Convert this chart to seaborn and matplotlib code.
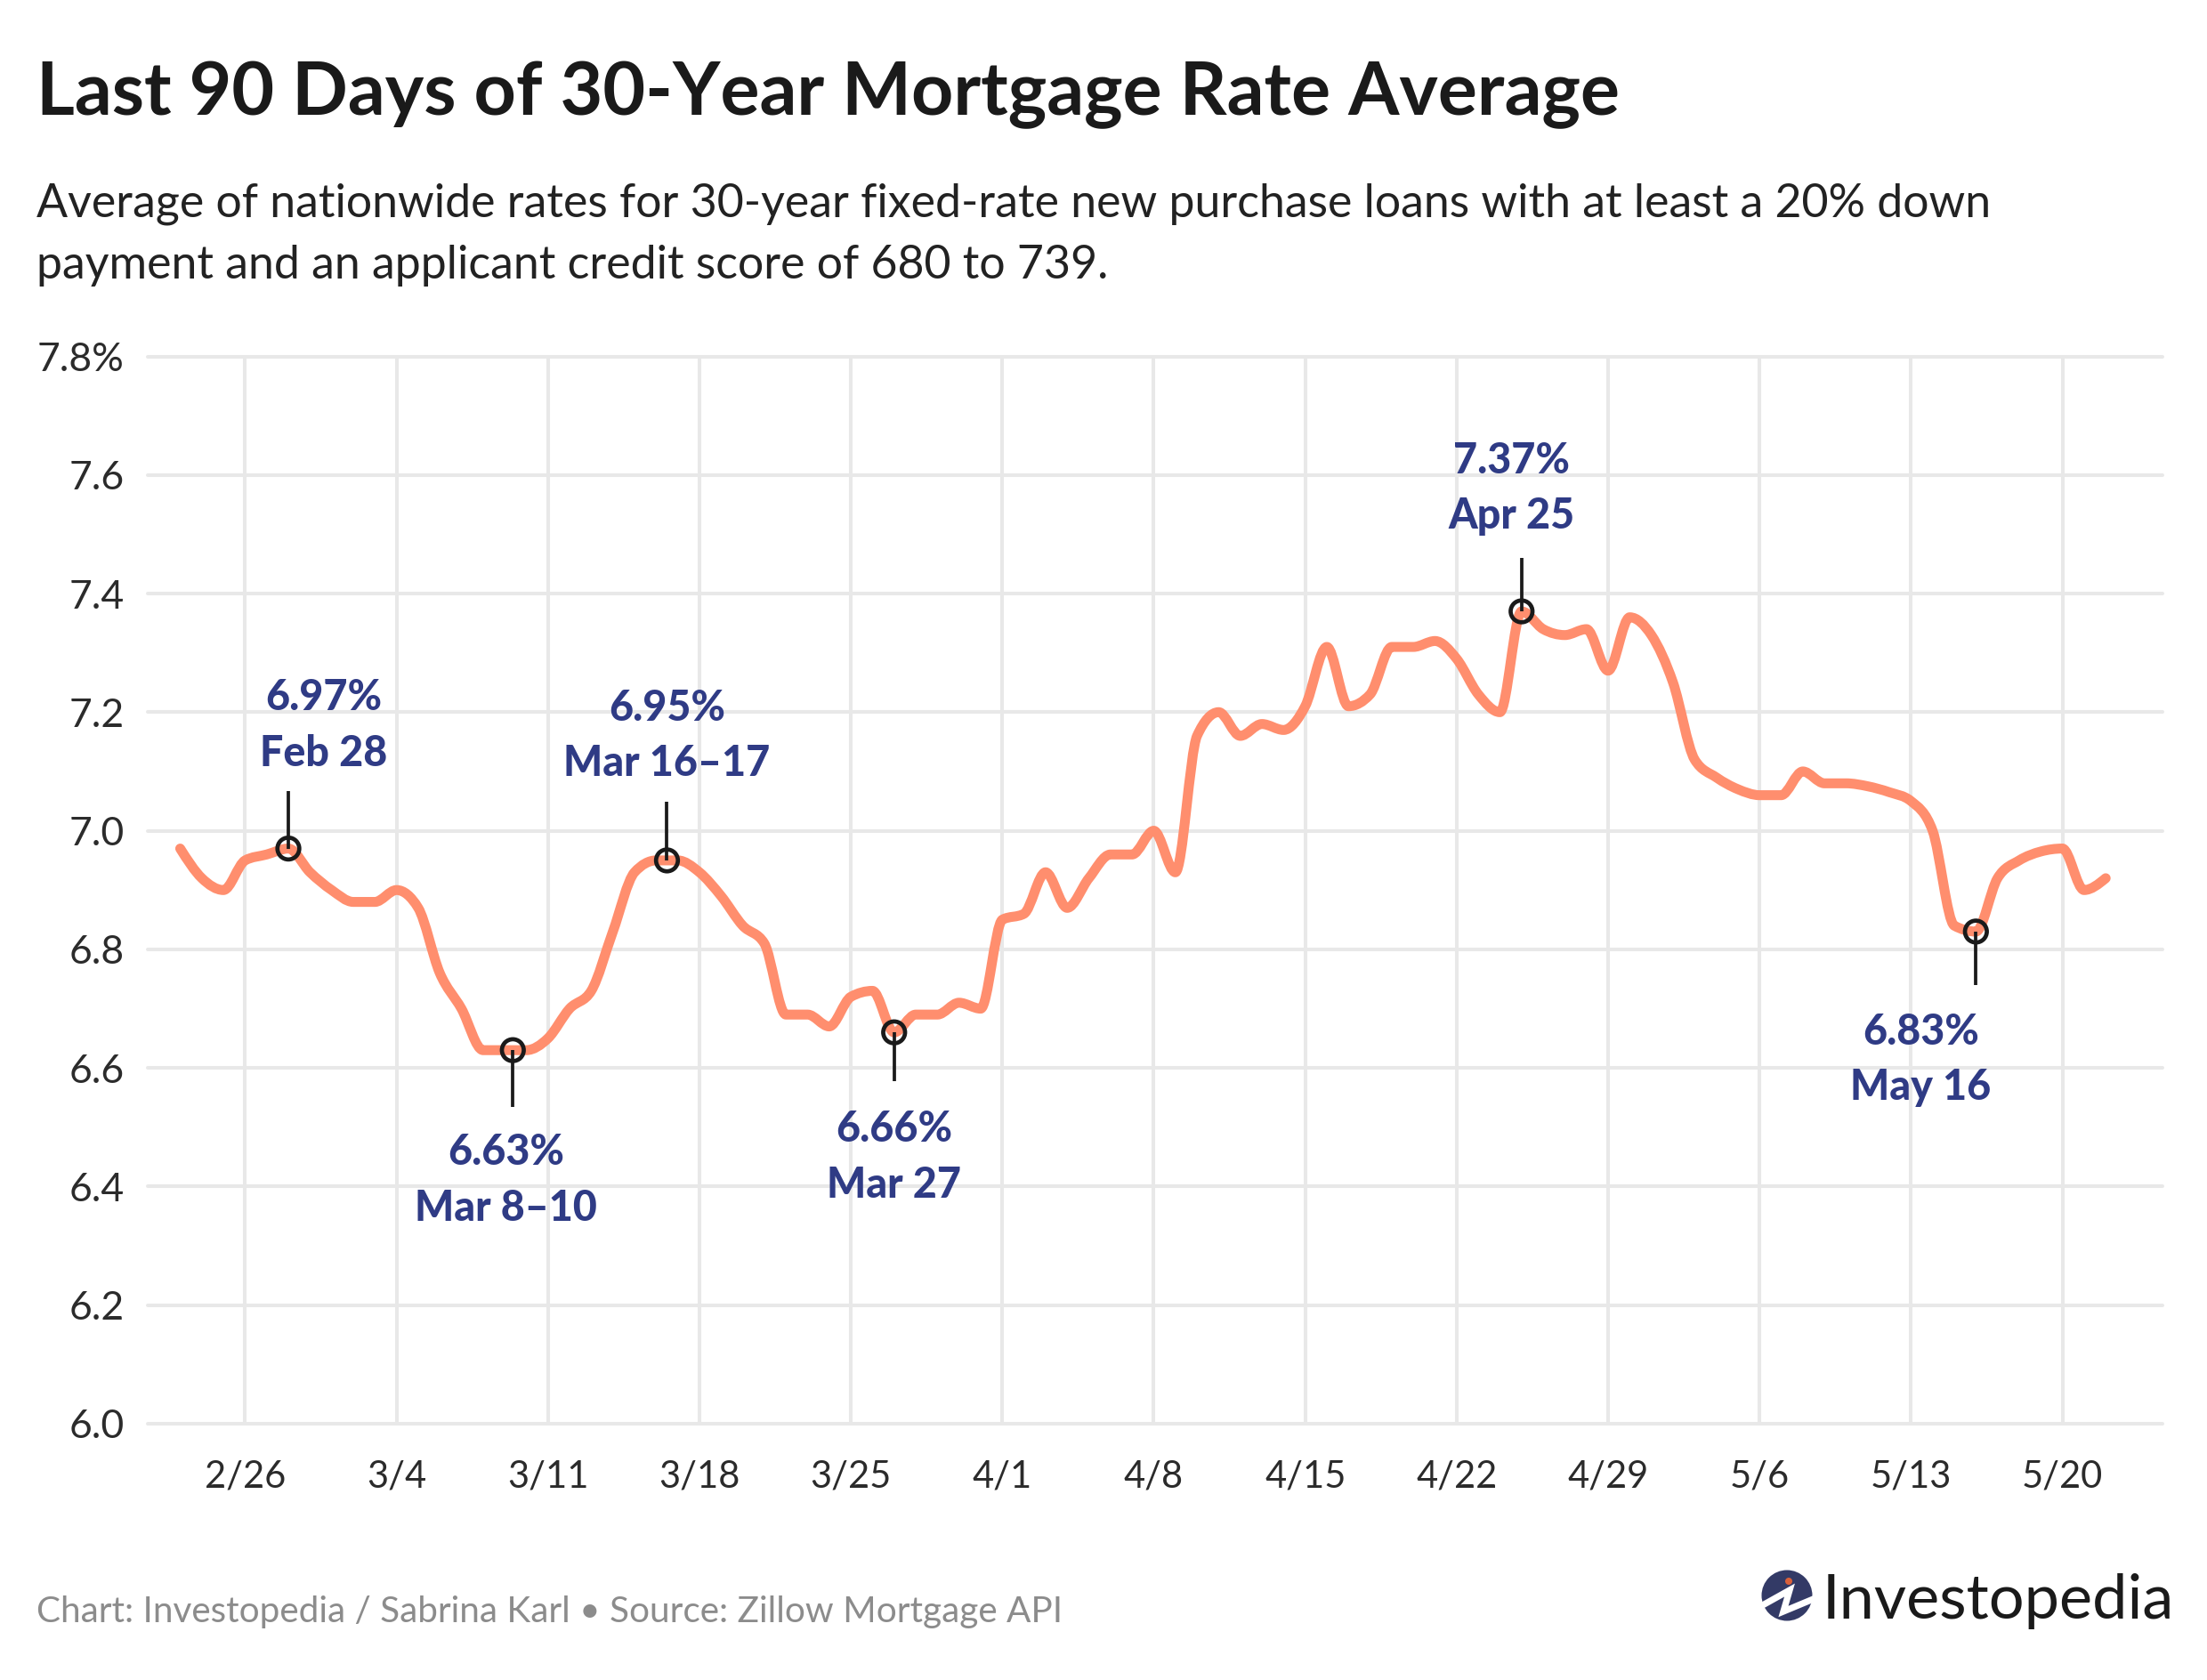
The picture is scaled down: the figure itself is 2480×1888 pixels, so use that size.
import pandas as pd
import numpy as np
import matplotlib.pyplot as plt
import matplotlib.patches as mpatches
from matplotlib.path import Path
import seaborn as sns

# Daily average rate, Feb 23 to May 22
start_date = '2024-02-23'
rates = [
    6.97, 6.92, 6.90, 6.95, 6.96, 6.97, 6.93, 6.90, 6.88, 6.88,
    6.90, 6.87, 6.76, 6.70, 6.63, 6.63, 6.63, 6.65, 6.70, 6.73,
    6.83, 6.93, 6.95, 6.95, 6.93, 6.89, 6.84, 6.81, 6.69, 6.69,
    6.67, 6.72, 6.73, 6.66, 6.69, 6.69, 6.71, 6.70, 6.85, 6.86,
    6.93, 6.87, 6.92, 6.96, 6.96, 7.00, 6.93, 7.16, 7.20, 7.16,
    7.18, 7.17, 7.21, 7.31, 7.21, 7.23, 7.31, 7.31, 7.32, 7.29,
    7.23, 7.20, 7.37, 7.34, 7.33, 7.34, 7.27, 7.36, 7.33, 7.25,
    7.12, 7.09, 7.07, 7.06, 7.06, 7.10, 7.08, 7.08, 7.075, 7.065,
    7.05, 7.00, 6.84, 6.83, 6.92, 6.95, 6.965, 6.97, 6.90, 6.92,
]

# Called out points
callout_dates = ['2024-02-28 00:00', '2024-03-09 09:00', '2024-03-16 12:00', '2024-03-27 00:00', '2024-04-25 00:00', '2024-05-16 00:00']
callout_rates = [6.97, 6.63, 6.95, 6.66, 7.37, 6.83]
callout_labels = ['6.97%\nFeb 28', '6.63%\nMar 8–10', '6.95%\nMar 16–17', '6.66%\nMar 27', '7.37%\nApr 25', '6.83%\nMay 16']
callout_offsets = [(40, 138), (-8, -146), (0, 140), (0, -140), (-11, 138), (-62, -144)]
# leader line length in rate units, negative goes down
callout_leaders = [0.097, -0.096, 0.099, -0.082, 0.09, -0.09]

x_tick_dates = ['2024-02-26', '2024-03-04', '2024-03-11', '2024-03-18', '2024-03-25', '2024-04-01', '2024-04-08',
                '2024-04-15', '2024-04-22', '2024-04-29', '2024-05-06', '2024-05-13', '2024-05-20']
x_tick_labels = ['2/26', '3/4', '3/11', '3/18', '3/25', '4/1', '4/8', '4/15', '4/22', '4/29', '5/6', '5/13', '5/20']
y_ticks = [6.0, 6.2, 6.4, 6.6, 6.8, 7.0, 7.2, 7.4, 7.6, 7.8]
y_tick_labels = ['6.0', '6.2', '6.4', '6.6', '6.8', '7.0', '7.2', '7.4', '7.6', '7.8%']

W, H = 2480, 1888
LINE_COLOR = '#ff8e6e'
NAVY = '#2f3b85'
DARK = '#1a1a1a'


def monotone_bezier(xy):
    # same shape as a monotone-x curve: one cubic segment between each pair of days
    x, y = xy[:, 0], xy[:, 1]
    h = np.diff(x)
    s = np.diff(y) / h
    t = np.zeros(len(x))
    for i in range(1, len(x) - 1):
        p = (s[i - 1] * h[i] + s[i] * h[i - 1]) / (h[i - 1] + h[i])
        t[i] = (np.sign(s[i - 1]) + np.sign(s[i])) * min(abs(s[i - 1]), abs(s[i]), 0.5 * abs(p))
    t[0] = (3 * s[0] - t[1]) / 2
    t[-1] = (3 * s[-1] - t[-2]) / 2
    verts = [(x[0], y[0])]
    codes = [Path.MOVETO]
    for i in range(len(x) - 1):
        d = h[i] / 3
        verts += [(x[i] + d, y[i] + d * t[i]), (x[i + 1] - d, y[i + 1] - d * t[i + 1]), (x[i + 1], y[i + 1])]
        codes += [Path.CURVE4] * 3
    return Path(verts, codes)


sns.set_theme(style='whitegrid')
plt.rcParams['font.family'] = ['Lato', 'DejaVu Sans']

rate_df = pd.DataFrame({'date': pd.date_range(start_date, periods=len(rates)), 'rate': rates})
callout_df = pd.DataFrame({'date': pd.to_datetime(callout_dates), 'rate': callout_rates})

fig = plt.figure(figsize=(W / 200, H / 200), dpi=200)
ax = fig.add_axes([166 / W, 1 - 1600 / H, (2430 - 166) / W, (1600 - 400.5) / H])

sns.lineplot(data=rate_df, x='date', y='rate', color=LINE_COLOR, ax=ax)

# the original line is smoothed, so swap the straight segments for the curve
day_line = ax.lines[0]
ax.add_patch(mpatches.PathPatch(monotone_bezier(day_line.get_xydata()), fill=False, edgecolor=LINE_COLOR,
                                linewidth=4.0, capstyle='round', joinstyle='round', zorder=3))
day_line.set_visible(False)

for when, value, leader in zip(callout_df['date'], callout_rates, callout_leaders):
    ax.plot([when, when], [value, value + leader], color=DARK, linewidth=1.35, solid_capstyle='butt', zorder=4)

sns.scatterplot(data=callout_df, x='date', y='rate', s=78, facecolor='none', edgecolor=DARK, linewidth=1.7,
                zorder=5, ax=ax)

for when, value, label, offset in zip(callout_df['date'], callout_rates, callout_labels, callout_offsets):
    ax.annotate(label, xy=(when, value), xytext=offset, textcoords='offset pixels', ha='center', va='center',
                color=NAVY, fontsize=16.8, fontweight=900, linespacing=1.52, zorder=6)

ax.set_xlim(pd.Timestamp('2024-02-21 12:00'), pd.Timestamp('2024-05-24 15:00'))
ax.set_ylim(6.0, 7.8)
ax.set_xticks(pd.to_datetime(x_tick_dates))
ax.set_xticklabels(x_tick_labels)
ax.set_yticks(y_ticks)
ax.set_yticklabels(y_tick_labels)
ax.set_xlabel('')
ax.set_ylabel('')
ax.tick_params(axis='x', length=0, pad=14.5, labelsize=15, labelcolor='#2b2b2b')
ax.tick_params(axis='y', length=0, pad=9.5, labelsize=16, labelcolor='#2b2b2b')
ax.grid(True, color='#e8e8e8', linewidth=1.45)
for gl in ax.get_ygridlines() + ax.get_xgridlines():
    gl.set_clip_on(False)
ax.set_facecolor('white')
sns.despine(ax=ax, left=True, bottom=True)

fig.text(41 / W, 1 - 107 / H, 'Last 90 Days of 30-Year Mortgage Rate Average', fontsize=29.7, fontweight='bold',
         color=DARK, va='center')
fig.text(41 / W, 1 - 229 / H, 'Average of nationwide rates for 30-year fixed-rate new purchase loans with at least a 20% down',
         fontsize=18.7, color='#222222', va='center')
fig.text(41 / W, 1 - 298 / H, 'payment and an applicant credit score of 680 to 739.',
         fontsize=18.7, color='#222222', va='center')
fig.text(41 / W, 1 - 1811 / H, 'Chart: Investopedia / Sabrina Karl • Source: Zillow Mortgage API',
         fontsize=14.6, color='#8c8c8c', va='center')

# Logo
logo = fig.add_axes([0, 0, 1, 1], zorder=10)
logo.set_xlim(0, W)
logo.set_ylim(H, 0)
logo.axis('off')
logo.patch.set_alpha(0)
logo.add_patch(mpatches.Circle((2008, 1793), 28.5, color='#333a66', linewidth=0))
logo.add_patch(mpatches.Circle((2010, 1777), 4, color='#d9603a', linewidth=0))
logo.plot([1977, 2011, 2004, 2040], [1806, 1787, 1811, 1796], color='white', linewidth=2.6,
          solid_joinstyle='miter', solid_capstyle='butt')
logo.text(2048, 1819, 'Investopedia', fontsize=25.3, color=DARK, va='baseline', ha='left')

fig.savefig('out.png', dpi=200)
